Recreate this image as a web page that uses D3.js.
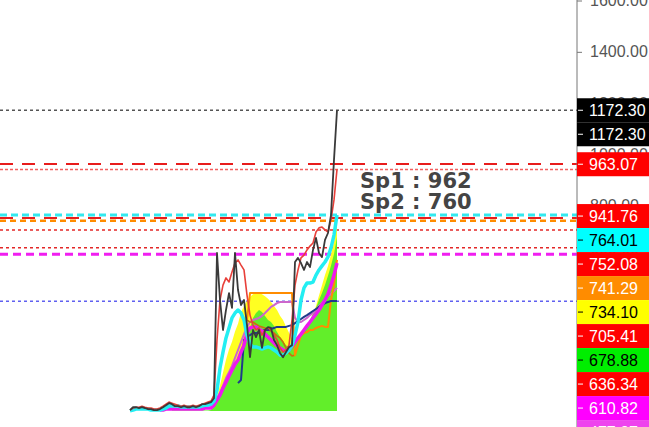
<!DOCTYPE html>
<html lang="en">
<head>
<meta charset="utf-8">
<title>Price chart with levels</title>
<script src="https://cdn.jsdelivr.net/npm/d3@7"></script>
<style>
  body { margin: 0; background: #fff; }
  svg { display: block; }
  .axis text { font-family: "Liberation Sans", Arial, sans-serif; font-size: 16px; fill: #555; }
  .axis path, .axis line { stroke: #777; }
  .tag text { font-family: "Liberation Sans", Arial, sans-serif; font-size: 16px; }
  .sp { font-family: "DejaVu Sans", Verdana, sans-serif; font-weight: bold; font-size: 21px; fill: #444; }
</style>
</head>
<body>
<div id="chart"></div>
<script>
var width = 649, height = 427, axisX = 577;

// series, one value per bar (null = not drawn yet)
var closeSeries = [4,15,15,12,15,12,8,8,4,4, 8,15,23,31,27,19,19,15,19,15,
  15,19,15,19,27,27,31,35,50,616, 433,316,394,460,402,616,472,413,433,335,
  210,316,288,316,246,316,327,324,277,257, 226,210,230,249,257,581,597,577,550,581,
  561,628,675,616,600,667,694,764,979,1172.3];
var redSeries = [4,12,15,15,19,15,12,12,8,8, 12,19,27,35,31,27,23,19,23,19,
  19,23,19,23,27,31,35,39,62,277, 433,491,519,503,542,577,589,569,550,452,
  374,335,316,324,296,316,324,316,296,277, 246,230,238,257,355,491,550,597,608,628,
  643,655,698,714,717,706,698,745,823,941.76];
var cyanSeries = [1,4,8,8,8,8,8,4,4,4, 4,8,12,20,20,20,20,16,16,16,
  16,16,16,16,20,23,23,27,39,82, 168,230,285,324,363,382,394,382,355,296,
  261,250,250,246,242,246,250,246,238,230, 218,218,226,238,257,296,347,433,480,499,
  499,503,530,550,566,581,601,636,686,764.01];
var magentaSeries = [null,null,null,null,null,null,null,null,null,null,
  4,4,8,8,8,8,8,8,8,8, 8,8,8,8,8,12,12,12,23,43,
  62,90,113,137,160,183,199,230,257,304, 324,328,328,320,312,300,289,277,265,254,
  246,238,234,238,254,269,285,300,316,332, 347,363,378,394,413,433,456,491,530,577];
var greenSeries = [null,null,null,null,null,null,null,null,null,null,null,null,null,null,
  2,2,2,2,2,2, 2,2,2,2,2,2,2,4,20,43,
  59,90,121,140,160,176,191,218,246,277, 324,363,382,394,386,371,355,347,332,308,
  289,273,257,250,254,269,285,300,316,332, 355,378,402,433,460,491,527,566,612,678.88];
var yellowSeries = [null,null,null,null,null,null,null,null,null,null,
  null,null,null,null,null,null,null,null,null,null,
  null,null,null,null,null,null,null,4,20,55,
  100,150,200,240,270,310,340,385,410,430, 445,455,460,460,455,448,438,425,410,394,
  372,355,330,305,282,285,295,305,312,320, 350,380,410,450,490,530,565,610,660,737];
var orangeSeries = [null,null,null,null,null,null,null,null,null,null,
  null,null,null,null,null,null,null,null,null,null,
  null,null,null,null,null,null,null,null,null,null,
  null,null,null,null,null,null,null,null,null,355,
  460,460,460,460,460,460,460,460,460,460, 460,460,460,460,460,218,257,296,304,308,
  316,316,324,328,332,328,328,433,491,589];
var brownSeries = [null,null,null,null,null,null,null,null,null,null,
  null,null,null,null,null,null,null,null,null,null,
  null,null,null,null,null,null,null,null,null,null,
  null,null,null,null,null,null,null,null,null,355,
  347,347,339,332,328,324,316,312,304,293, 285,269,246,226,215,218,null,null,null,null,
  null,null,null,null,null,null,null,null,null,null];
var violetSeries = [null,null,null,null,null,null,null,null,null,null,
  null,null,null,null,null,null,null,null,null,null,
  null,null,null,null,null,null,null,8,23,51,
  70,98,129,152,176,207,238,269,300,328, 347,355,359,363,371,382,394,406,413,421,
  425,425,425,425,425,363,347,347,355,363, 374,382,394,410,421,433,449,456,468,480];
var navySeries = [null,null,null,null,null,null,null,null,null,null,
  null,null,null,null,null,null,null,null,null,null,
  null,null,null,null,null,null,null,null,null,null,
  null,null,null,null,null,null,109,121,277,289,
  296,304,304,308,312,316,316,320,324,328, 328,328,328,332,335,343,351,359,367,374,
  382,390,398,406,413,421,425,429,429,429];

// horizontal levels and right-hand price tags
var levelValues = [1172.30, 963.07, 941.76, 764.01, 752.08, 741.29, 705.41, 636.34, 610.82, 428.50];
var tagValues = [1172.30, 1172.30, 963.07, 941.76, 764.01, 752.08, 741.29, 734.10, 705.41, 678.88, 636.34, 610.82, 477.97];
// 0 = price, 1 = Sp1 zone, 2 = Sp2 zone
var tagGroups = [0, 0, 1, 2, 2, 2, 2, 2, 2, 2, 2, 2, 2];
var axisTicks = [1600, 1400, 1200, 1000, 800, 600, 400, 200];
var spNames = ["Sp1", "Sp2"];
var spValues = [962, 760];

var levelStyles = [
  {stroke: "#555", w: 1.5, dash: "3,3"},
  {stroke: "#e81c1c", w: 2, dash: "13,9"},
  {stroke: "#f26060", w: 1.5, dash: "3,2"},
  {stroke: "#33e8ee", w: 3, dash: "7,4"},
  {stroke: "#e81c1c", w: 2, dash: "13,9"},
  {stroke: "#ff8c00", w: 2.5, dash: "6,4"},
  {stroke: "#e32727", w: 1.5, dash: "3,3"},
  {stroke: "#e32727", w: 1.5, dash: "3,3"},
  {stroke: "#f01ef0", w: 3, dash: "8,5"},
  {stroke: "#6060f0", w: 1.5, dash: "3,3"}
];
var tagStyles = [
  {fill: "#000", text: "#fff"}, {fill: "#000", text: "#fff"},
  {fill: "#f00", text: "#fff"}, {fill: "#f00", text: "#fff"},
  {fill: "#0ff", text: "#000"}, {fill: "#f00", text: "#fff"},
  {fill: "#ff8c00", text: "#fff"}, {fill: "#ff0", text: "#000"},
  {fill: "#f00", text: "#fff"}, {fill: "#0e0", text: "#000"},
  {fill: "#f00", text: "#fff"}, {fill: "#f0f", text: "#fff"},
  {fill: "#ee44ee", text: "#fff"}
];

var x = d3.scaleLinear().domain([0, closeSeries.length - 1]).range([130, 337]);
var y = d3.scaleLinear().domain([-62, 1602]).range([height, 0]);

var svg = d3.select("#chart").append("svg")
    .attr("width", width)
    .attr("height", height);

// level lines
svg.append("g").selectAll("line")
  .data(levelValues)
  .enter().append("line")
    .attr("x1", 0).attr("x2", axisX)
    .attr("y1", function(d) { return y(d); })
    .attr("y2", function(d) { return y(d); })
    .style("stroke", function(d, i) { return levelStyles[i].stroke; })
    .style("stroke-width", function(d, i) { return levelStyles[i].w; })
    .style("stroke-dasharray", function(d, i) { return levelStyles[i].dash; });

var defined = function(d) { return d != null; };

var area = d3.area()
    .defined(defined)
    .x(function(d, i) { return x(i); })
    .y0(y(0))
    .y1(function(d) { return y(d); });

svg.append("path").datum(yellowSeries).attr("d", area).style("fill", "#ffff22");
svg.append("path").datum(greenSeries).attr("d", area).style("fill", "#62ee2a");

var line = d3.line()
    .defined(defined)
    .x(function(d, i) { return x(i); })
    .y(function(d) { return y(d); });

var series = [
  {data: violetSeries, color: "#cc66cc", w: 2},
  {data: brownSeries, color: "#c8700e", w: 1.6},
  {data: orangeSeries, color: "#ff8c00", w: 2},
  {data: navySeries, color: "#1f3a8a", w: 2},
  {data: magentaSeries, color: "#ee18ee", w: 3.5},
  {data: cyanSeries, color: "#22eef2", w: 3.5},
  {data: redSeries, color: "#e8403a", w: 1.6},
  {data: closeSeries, color: "#3a3a3a", w: 1.8}
];

svg.append("g").selectAll("path")
  .data(series)
  .enter().append("path")
    .attr("d", function(s) { return line(s.data); })
    .style("fill", "none")
    .style("stroke", function(s) { return s.color; })
    .style("stroke-width", function(s) { return s.w; })
    .style("stroke-linejoin", "round");

// support text
svg.selectAll(".sp")
  .data(spNames)
  .enter().append("text")
    .attr("class", "sp")
    .attr("x", x(closeSeries.length - 1) + 23)
    .attr("y", function(d, i) { return y(spValues[0]) + 24 + i * 21; })
    .text(function(d, i) { return d + " : " + spValues[i]; });

// price tags: each group starts at its anchor, tags stack downwards
var tagH = 24, lastBottom = -Infinity;
var groupAnchor = function(g) { return g === 0 ? tagValues[0] : spValues[g - 1]; };
var tags = tagValues.map(function(v, i) {
  var g = tagGroups[i];
  var want = (i === 0 || tagGroups[i - 1] !== g) ? y(groupAnchor(g)) - tagH / 2 : lastBottom;
  var top = Math.max(want, lastBottom);
  lastBottom = top + tagH;
  return {value: v, top: top, style: tagStyles[i]};
});

// right axis, leaving out labels that sit fully under a tag
var hidden = function(v) {
  var c = y(v);
  return tags.some(function(t) { return c - 6 >= t.top && c + 6 <= t.top + tagH; });
};
var axis = d3.axisRight(y)
    .tickValues(axisTicks.filter(function(v) { return !hidden(v); }))
    .tickSize(5)
    .tickPadding(8)
    .tickFormat(d3.format(".2f"));

svg.append("g")
    .attr("class", "axis")
    .attr("transform", "translate(" + axisX + ",0)")
    .call(axis)
    .call(function(g) { g.select(".domain").attr("d", "M0,0V" + height); });

var tag = svg.append("g").selectAll(".tag")
  .data(tags)
  .enter().append("g")
    .attr("class", "tag")
    .attr("transform", function(d) { return "translate(" + axisX + "," + d.top + ")"; });

tag.append("rect")
    .attr("width", width - axisX)
    .attr("height", tagH)
    .style("fill", function(d) { return d.style.fill; });

tag.append("line")
    .attr("x1", 1).attr("x2", 6)
    .attr("y1", tagH / 2).attr("y2", tagH / 2)
    .style("stroke", function(d) { return d.style.text; });

tag.append("text")
    .attr("x", 12)
    .attr("y", tagH / 2)
    .attr("dy", "0.36em")
    .style("fill", function(d) { return d.style.text; })
    .text(function(d) { return d3.format(".2f")(d.value); });
</script>
</body>
</html>
